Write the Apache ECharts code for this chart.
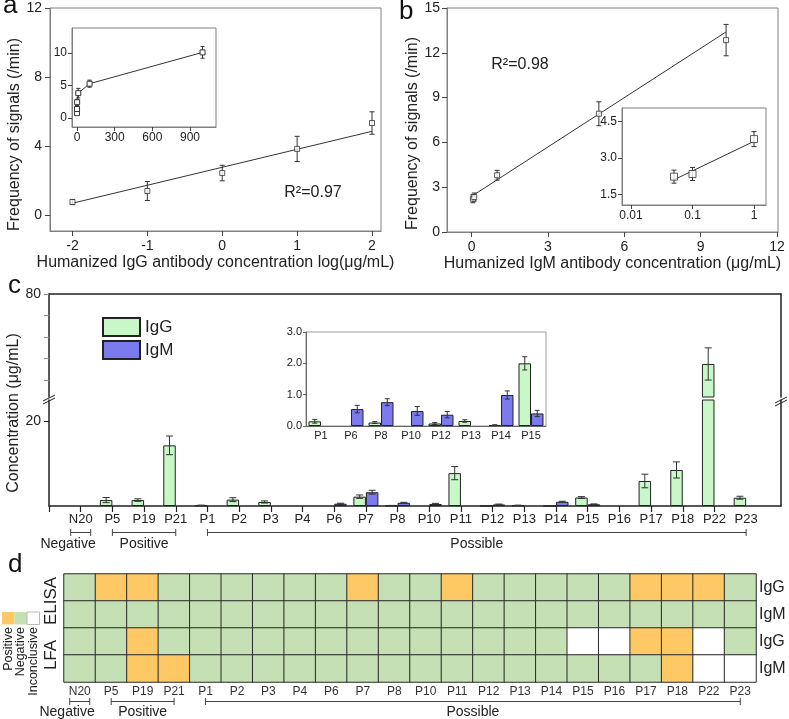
<!DOCTYPE html>
<html>
<head>
<meta charset="utf-8">
<script src="https://cdn.jsdelivr.net/npm/echarts@6.0.0/dist/echarts.min.js"></script>
<style>
html,body{margin:0;padding:0;background:#fff;}
#chart{width:789px;height:719px;}
</style>
</head>
<body>
<div id="chart"></div>
<script>
// ---------------- data ----------------
// panel a : IgG calibration (log concentration)
const aLogConc = [-2, -1, 0, 1, 2];
const aFreq = [0.75, 1.39, 2.43, 3.83, 5.33];
const aErr = [0.15, 0.55, 0.45, 0.73, 0.65];
const aFitX = [-2, 2];
const aFitY = [0.68, 4.85];
const aTicksX = [-2, -1, 0, 1, 2];
const aTicksY = [0, 4, 8, 12];
// panel a inset : linear concentration
const aInsetConc = [0.01, 0.1, 1, 10, 100, 1000];
const aInsetFreq = [0.75, 1.39, 2.43, 3.83, 5.28, 10.1];
const aInsetErr = [0.15, 0.55, 0.45, 0.73, 0.55, 0.9];
const aInsetTicksX = [0, 300, 600, 900];
const aInsetTicksY = [0, 5, 10];

// panel b : IgM calibration
const bConc = [0.05, 0.1, 1, 5, 10];
const bFreq = [2.23, 2.34, 3.8, 7.92, 12.85];
const bErr = [0.27, 0.27, 0.33, 0.8, 1.05];
const bFitX = [0.05, 10];
const bFitY = [2.45, 13.4];
const bTicksX = [0, 3, 6, 9, 12];
// panel b inset : log concentration
const bInsetConc = [0.05, 0.1, 1];
const bInsetFreq = [2.23, 2.34, 3.78];
const bInsetErr = [0.27, 0.27, 0.31];
const bInsetFitX = [0.05, 1];
const bInsetFitY = [2.1, 3.69];
const bInsetTicksX = [0.01, 0.1, 1];
const bInsetTicksY = [1.5, 3.0, 4.5];

// panel c : concentrations per sample
const cCats = ['N20','P5','P19','P21','P1','P2','P3','P4','P6','P7','P8','P10','P11','P12','P13','P14','P15','P16','P17','P18','P22','P23'];
const cIgG    = [0, 1.4, 1.4, 14.3, 0.15, 1.5, 0.95, 0, 0, 2.2, 0.11, 0, 7.75, 0.08, 0.16, 0.03, 2.0, 0, 5.9, 8.5, 47.4, 1.95];
const cIgGErr = [0, 0.6, 0.3, 2.2, 0.06, 0.45, 0.25, 0, 0, 0.4, 0.03, 0, 1.55, 0.03, 0.04, 0.01, 0.21, 0, 1.6, 1.9, 7.5, 0.35];
const cIgM    = [0, 0, 0, 0, 0, 0, 0, 0, 0.54, 3.25, 0.76, 0.48, 0, 0.36, 0, 0.99, 0.4, 0, 0, 0, 0, 0];
const cIgMErr = [0, 0, 0, 0, 0, 0, 0, 0, 0.12, 0.45, 0.11, 0.14, 0, 0.1, 0, 0.13, 0.1, 0, 0, 0, 0, 0];
const cLowerTicks = [20];
const cUpperTicks = [40, 50, 60, 70, 80];
const cUpperLabels = [80];
// panel c inset
const cInsetCats = ['P1','P6','P8','P10','P12','P13','P14','P15'];
const cInsetIgG    = [0.15, 0, 0.11, 0, 0.08, 0.16, 0.03, 2.0];
const cInsetIgGErr = [0.06, 0, 0.03, 0, 0.03, 0.04, 0.01, 0.21];
const cInsetIgM    = [0, 0.54, 0.76, 0.48, 0.36, 0, 0.99, 0.4];
const cInsetIgMErr = [0, 0.12, 0.11, 0.14, 0.1, 0, 0.13, 0.1];

// sample groups
const groups = [
  {label: 'Negative', first: 'N20', last: 'N20'},
  {label: 'Positive', first: 'P5', last: 'P21'},
  {label: 'Possible', first: 'P1', last: 'P23'}
];

// panel d : test results, 1 = Positive, 0 = Negative, 2 = Inconclusive
const dStates = ['Negative', 'Positive', 'Inconclusive'];
const dRows = ['ELISA IgG', 'ELISA IgM', 'LFA IgG', 'LFA IgM'];
const dMethods = ['ELISA', 'LFA'];
const elisaIgG = [0,1,1,0,0,0,0,0,0,1,0,0,1,0,0,0,0,0,1,1,1,0];
const elisaIgM = [0,0,0,0,0,0,0,0,0,0,0,0,0,0,0,0,0,0,0,0,0,0];
const lfaIgG   = [0,0,1,0,0,0,0,0,0,0,0,0,0,0,0,0,2,2,1,1,2,0];
const lfaIgM   = [0,0,1,1,0,0,0,0,0,0,0,0,0,0,0,0,0,0,0,1,2,2];

// ---------------- style ----------------
const F = '"Liberation Sans", Arial, Helvetica, sans-serif';
const INK = '#333';
const FRAME = '#808080';
const IGG = '#c8f7c8', IGM = '#7b7bef';
const POS = '#fec864', NEG = '#c5e0b4', INC = '#ffffff';
const BARW = 12.5;

const pairs = (xs, ys) => xs.map((x, i) => [x, ys[i]]);

function errSeries(xIdx, yIdx, xs, ys, es, o) {
  o = o || {};
  const lo = o.lo !== undefined ? o.lo : -Infinity;
  const hi = o.hi !== undefined ? o.hi : Infinity;
  const data = [];
  xs.forEach((x, i) => {
    if (es[i] > 0 && ys[i] + es[i] <= hi && ys[i] - es[i] >= lo) data.push([x, ys[i] - es[i], ys[i] + es[i]]);
  });
  return {
    type: 'custom', xAxisIndex: xIdx, yAxisIndex: yIdx, z: 4, silent: true,
    data: data, encode: {x: 0, y: [1, 2]},
    renderItem: function (params, api) {
      const p1 = api.coord([api.value(0), api.value(1)]);
      const p2 = api.coord([api.value(0), api.value(2)]);
      const x = p1[0] + (o.dx || 0);
      const w = (o.cap || 5) / 2;
      const st = {stroke: o.color || INK, lineWidth: 1, fill: null};
      return {type: 'group', children: [
        {type: 'line', shape: {x1: x, y1: p1[1], x2: x, y2: p2[1]}, style: st},
        {type: 'line', shape: {x1: x - w, y1: p1[1], x2: x + w, y2: p1[1]}, style: st},
        {type: 'line', shape: {x1: x - w, y1: p2[1], x2: x + w, y2: p2[1]}, style: st}
      ]};
    }
  };
}

function valAxis(o) {
  const ax = {
    type: o.type || 'value',
    gridIndex: o.grid,
    min: o.min, max: o.max,
    position: o.position,
    axisLine: {show: true, onZero: false, lineStyle: {color: o.lineColor || FRAME, width: o.lineWidth || 1}},
    axisTick: {show: true, length: o.tickLen || 5, lineStyle: {color: o.tickColor || '#444'}},
    axisLabel: {color: '#222', fontSize: o.fs || 14, fontFamily: F, margin: o.margin || 7},
    splitLine: {show: false}
  };
  if (o.ticks) ax.axisTick.customValues = o.ticks;
  if (o.labels || o.ticks) ax.axisLabel.customValues = o.labels || o.ticks;
  if (o.interval) ax.interval = o.interval;
  if (o.fmt) ax.axisLabel.formatter = o.fmt;
  if (o.name) {
    ax.name = o.name; ax.nameLocation = 'middle'; ax.nameGap = o.nameGap;
    ax.nameTextStyle = {fontSize: 16, fontFamily: F, color: '#222', padding: o.namePad || 0};
  }
  return ax;
}

const frameGrid = (l, t, w, h, bg) => ({left: l, top: t, width: w, height: h, show: true,
  borderColor: FRAME, borderWidth: 1, backgroundColor: bg || 'transparent'});

const upperMin = 32;
const lowerMax = 25;

const heatData = [];
[elisaIgG, elisaIgM, lfaIgG, lfaIgM].forEach((row, r) => row.forEach((v, c) => heatData.push([c, r, v])));

const option = {
  animation: false,
  textStyle: {fontFamily: F},
  grid: [
    frameGrid(50, 8, 331, 223),            // 0 a main
    frameGrid(72, 28, 144, 99, '#fff'),    // 1 a inset
    frameGrid(447, 8, 331, 224),           // 2 b main
    frameGrid(622, 108, 144, 97, '#fff'),  // 3 b inset
    {left: 49, top: 294, width: 732, height: 103},   // 4 c upper
    {left: 49, top: 400, width: 732, height: 106},   // 5 c lower
    Object.assign(frameGrid(306, 332, 240, 94, '#fff'), {borderColor: '#999'}), // 6 c inset
    {left: 64, top: 574, width: 692, height: 108}    // 7 d heatmap
  ],
  xAxis: [
    valAxis({grid: 0, min: -2.3, max: 2.12, ticks: aTicksX, margin: 8,
      name: 'Humanized IgG antibody concentration log(\u03bcg/mL)', nameGap: 24}),
    valAxis({grid: 1, min: -40, max: 1107, ticks: aInsetTicksX, fs: 12, margin: 5, tickLen: 4}),
    valAxis({grid: 2, min: -0.97, max: 12.04, ticks: bTicksX, margin: 8,
      name: 'Humanized IgM antibody concentration (\u03bcg/mL)', nameGap: 24}),
    valAxis({grid: 3, type: 'log', min: 0.00714, max: 1.567, ticks: bInsetTicksX, fs: 12, margin: 5, tickLen: 4,
      fmt: v => String(+(+v).toPrecision(2))}),
    // c upper: top frame line only
    {type: 'value', gridIndex: 4, min: 0, max: 23.1, position: 'top',
      axisLine: {show: true, onZero: false, lineStyle: {color: '#222', width: 1.5}},
      axisTick: {show: false}, axisLabel: {show: false}, splitLine: {show: false}},
    // c lower: sample axis
    {type: 'value', gridIndex: 5, min: 0, max: 23.1, position: 'bottom',
      axisLine: {show: true, onZero: false, lineStyle: {color: '#222', width: 1.5}},
      axisTick: {show: true, length: 6, lineStyle: {color: '#222', width: 1.2}, customValues: cCats.map((_, i) => i)},
      axisLabel: {color: '#222', fontSize: 13, fontFamily: F, margin: 7,
        customValues: cCats.map((_, i) => i + 1), formatter: v => cCats[Math.round(v) - 1] || ''},
      splitLine: {show: false}},
    // c inset
    {type: 'category', gridIndex: 6, data: cInsetCats,
      axisLine: {show: true, lineStyle: {color: '#666'}}, axisTick: {show: false},
      axisLabel: {color: '#222', fontSize: 11, fontFamily: F, margin: 4, interval: 0}},
    // d heatmap
    {type: 'category', gridIndex: 7, data: cCats, position: 'bottom',
      axisLine: {show: false}, axisTick: {show: false},
      axisLabel: {color: '#333', fontSize: 12, fontFamily: F, margin: 4, interval: 0}, splitLine: {show: false}}
  ],
  yAxis: [
    valAxis({grid: 0, min: -0.93, max: 12, ticks: aTicksY, margin: 8,
      name: 'Frequency of signals (/min)', nameGap: 18, namePad: [0, 30, 0, 0]}),
    valAxis({grid: 1, min: -1.38, max: 13.85, ticks: aInsetTicksY, fs: 12, margin: 5, tickLen: 4}),
    valAxis({grid: 2, min: 0, max: 15, interval: 3, margin: 7,
      name: 'Frequency of signals (/min)', nameGap: 24, namePad: [0, 27, 0, 0]}),
    valAxis({grid: 3, min: 1.058, max: 5.066, ticks: bInsetTicksY, fs: 12, margin: 5, tickLen: 4,
      fmt: v => (+v).toFixed(1)}),
    // 4 c upper left
    {type: 'value', gridIndex: 4, min: upperMin, max: 80,
      axisLine: {show: true, onZero: false, lineStyle: {color: '#222', width: 1.5}},
      axisTick: {show: true, length: 5, lineStyle: {color: '#888'}, customValues: cUpperTicks},
      axisLabel: {color: '#222', fontSize: 14, fontFamily: F, margin: 8, customValues: cUpperLabels},
      splitLine: {show: false}},
    // 5 c upper right
    {type: 'value', gridIndex: 4, min: upperMin, max: 80, position: 'right',
      axisLine: {show: true, onZero: false, lineStyle: {color: '#222', width: 1.5}},
      axisTick: {show: false}, axisLabel: {show: false}, splitLine: {show: false}},
    // 6 c lower left
    {type: 'value', gridIndex: 5, min: 0, max: lowerMax,
      axisLine: {show: true, onZero: false, lineStyle: {color: '#222', width: 1.5}},
      axisTick: {show: true, length: 5, lineStyle: {color: '#222'}, customValues: cLowerTicks},
      axisLabel: {color: '#222', fontSize: 14, fontFamily: F, margin: 8, customValues: cLowerTicks},
      splitLine: {show: false}},
    // 7 c lower right
    {type: 'value', gridIndex: 5, min: 0, max: lowerMax, position: 'right',
      axisLine: {show: true, onZero: false, lineStyle: {color: '#222', width: 1.5}},
      axisTick: {show: false}, axisLabel: {show: false}, splitLine: {show: false}},
    // 8 c inset
    {type: 'value', gridIndex: 6, min: 0, max: 3, interval: 1,
      axisLine: {show: true, lineStyle: {color: '#666'}},
      axisTick: {show: true, length: 3, lineStyle: {color: '#666'}},
      axisLabel: {color: '#222', fontSize: 11, fontFamily: F, margin: 4, formatter: v => (+v).toFixed(1)},
      splitLine: {show: false}},
    // 9 d rows (right)
    {type: 'category', gridIndex: 7, data: dRows, inverse: true, position: 'right',
      axisLine: {show: false}, axisTick: {show: false},
      axisLabel: {color: '#222', fontSize: 16, fontFamily: F, margin: 3, interval: 0, formatter: v => v.split(' ')[1]}},
    // 10 d methods (left)
    {type: 'category', gridIndex: 7, data: dMethods, inverse: true, position: 'left',
      axisLine: {show: false}, axisTick: {show: false},
      axisLabel: {color: '#222', fontSize: 17, fontFamily: F, margin: 4, rotate: 90, interval: 0,
        align: 'center', verticalAlign: 'bottom', hideOverlap: false}}
  ],
  legend: {
    data: ['IgG', 'IgM'], orient: 'vertical', left: 97, top: 312,
    itemWidth: 37, itemHeight: 18, itemGap: 3, icon: 'rect', selectedMode: false,
    textStyle: {fontSize: 17, fontFamily: F, color: '#222'}
  },
  visualMap: {
    type: 'piecewise', show: false, seriesIndex: 0, dimension: 2,
    pieces: [{value: 0, color: NEG}, {value: 1, color: POS}, {value: 2, color: INC}]
  },
  series: []
};

const S = option.series;
// heatmap first (visualMap seriesIndex 0)
S.push({type: 'heatmap', xAxisIndex: 7, yAxisIndex: 9, data: heatData, silent: true,
  itemStyle: {borderColor: '#2b2b2b', borderWidth: 1}, emphasis: {disabled: true}});

// panel a
S.push({type: 'line', xAxisIndex: 0, yAxisIndex: 0, data: pairs(aFitX, aFitY), showSymbol: false, silent: true,
  lineStyle: {color: INK, width: 1}});
S.push(errSeries(0, 0, aLogConc, aFreq, aErr, {cap: 5}));
S.push({type: 'scatter', xAxisIndex: 0, yAxisIndex: 0, data: pairs(aLogConc, aFreq), symbol: 'rect', symbolSize: 5,
  itemStyle: {color: '#fff', borderColor: INK, borderWidth: 1}, z: 5, silent: true});
S.push({type: 'line', xAxisIndex: 1, yAxisIndex: 1, data: pairs(aInsetConc, aInsetFreq), symbol: 'rect', symbolSize: 5,
  showSymbol: true, lineStyle: {color: INK, width: 1}, itemStyle: {color: '#fff', borderColor: INK, borderWidth: 1}, z: 5, silent: true});
S.push(errSeries(1, 1, aInsetConc, aInsetFreq, aInsetErr, {cap: 4}));

// panel b
S.push({type: 'line', xAxisIndex: 2, yAxisIndex: 2, data: pairs(bFitX, bFitY), showSymbol: false, silent: true,
  lineStyle: {color: INK, width: 1}});
S.push(errSeries(2, 2, bConc, bFreq, bErr, {cap: 5}));
S.push({type: 'scatter', xAxisIndex: 2, yAxisIndex: 2, data: pairs(bConc, bFreq), symbol: 'rect', symbolSize: 5,
  itemStyle: {color: '#fff', borderColor: INK, borderWidth: 1}, z: 5, silent: true});
S.push({type: 'line', xAxisIndex: 3, yAxisIndex: 3, data: pairs(bInsetFitX, bInsetFitY), showSymbol: false, silent: true,
  lineStyle: {color: INK, width: 1}});
S.push(errSeries(3, 3, bInsetConc, bInsetFreq, bInsetErr, {cap: 5}));
S.push({type: 'scatter', xAxisIndex: 3, yAxisIndex: 3, data: pairs(bInsetConc, bInsetFreq), symbol: 'rect', symbolSize: 7,
  itemStyle: {color: '#fff', borderColor: INK, borderWidth: 1}, z: 5, silent: true});

// panel c bars
function barSeries(name, color, xi, yi, data) {
  return {type: 'bar', name: name, xAxisIndex: xi, yAxisIndex: yi, data: data, barWidth: BARW, barGap: '0%',
    itemStyle: {color: color, borderColor: '#222', borderWidth: 1}, silent: true, clip: true};
}
const sampleBars = (vals, keep) => vals.map((v, i) => [i + 1, v]).filter(d => keep(d[1]));
S.push(barSeries('IgG', IGG, 5, 6, sampleBars(cIgG, v => v > 0)));
S.push(barSeries('IgM', IGM, 5, 6, sampleBars(cIgM, v => v > 0)));
S.push(barSeries('IgG', IGG, 4, 4, sampleBars(cIgG, v => v > upperMin)));
S.push(barSeries('IgM', IGM, 4, 4, sampleBars(cIgM, v => v > upperMin)));
const cPos = cCats.map((_, i) => i + 1);
S.push(errSeries(5, 6, cPos, cIgG, cIgGErr, {dx: -BARW / 2, cap: 7, hi: lowerMax}));
S.push(errSeries(5, 6, cPos, cIgM, cIgMErr, {dx: BARW / 2, cap: 7, hi: lowerMax}));
S.push(errSeries(4, 4, cPos, cIgG, cIgGErr, {dx: -BARW / 2, cap: 7, lo: upperMin}));

// panel c inset
S.push(barSeries('IgG', IGG, 6, 8, cInsetIgG.map(v => v > 0 ? v : '-')));
S.push(barSeries('IgM', IGM, 6, 8, cInsetIgM.map(v => v > 0 ? v : '-')));
const insetPos = cInsetCats.map((_, i) => i);
S.push(errSeries(6, 8, insetPos, cInsetIgG, cInsetIgGErr, {dx: -BARW / 2, cap: 5}));
S.push(errSeries(6, 8, insetPos, cInsetIgM, cInsetIgMErr, {dx: BARW / 2, cap: 5}));

const chart = echarts.init(document.getElementById('chart'));
chart.setOption(option);

// ---------------- annotations ----------------
const G = [];
const txt = (x, y, s, size, extra) => Object.assign({type: 'text', x: x, y: y, silent: true,
  style: Object.assign({text: s, fill: '#111', fontSize: size, fontFamily: F,
    align: 'left', textAlign: 'left', verticalAlign: 'top', textVerticalAlign: 'top'}, (extra && extra.style) || {})},
  extra ? {rotation: extra.rotation || 0} : {});
G.push(txt(3, -7, 'a', 26));
G.push(txt(399, -1, 'b', 26));
G.push(txt(8, 273, 'c', 26));
G.push(txt(8, 552, 'd', 26));
G.push(txt(313, 193, 'R\u00b2=0.97', 16, {style: {align: 'center', textAlign: 'center', verticalAlign: 'middle', textVerticalAlign: 'middle', fill: '#222'}}));
G.push(txt(520, 65, 'R\u00b2=0.98', 16, {style: {align: 'center', textAlign: 'center', verticalAlign: 'middle', textVerticalAlign: 'middle', fill: '#222'}}));
G.push(txt(14, 413, 'Concentration (\u03bcg/mL)', 16, {rotation: Math.PI / 2,
  style: {align: 'center', textAlign: 'center', verticalAlign: 'middle', textVerticalAlign: 'middle', fill: '#222'}}));

// axis break marks
function breakMark(cx, cy) {
  return {type: 'group', x: cx, y: cy, silent: true, children: [
    {type: 'polygon', shape: {points: [[-6, 2], [6, -4], [6, -1], [-6, 5]]}, style: {fill: '#fff'}},
    {type: 'line', shape: {x1: -6, y1: 2, x2: 6, y2: -4}, style: {stroke: '#222', lineWidth: 1}},
    {type: 'line', shape: {x1: -6, y1: 5, x2: 6, y2: -1}, style: {stroke: '#222', lineWidth: 1}}
  ]};
}
G.push(breakMark(49, 399));
G.push(breakMark(781, 401));

// sample group brackets
function brackets(axisIdx, toVal, yLine, yText) {
  groups.forEach(g => {
    const single = g.first === g.last;
    let xA = chart.convertToPixel({xAxisIndex: axisIdx}, toVal(g.first));
    let xB = chart.convertToPixel({xAxisIndex: axisIdx}, toVal(g.last));
    if (single) { xA -= 10; xB += 10; }
    const st = {stroke: '#444', lineWidth: 1};
    G.push({type: 'line', silent: true, shape: {x1: xA, y1: yLine, x2: xB, y2: yLine}, style: st});
    G.push({type: 'line', silent: true, shape: {x1: xA, y1: yLine - 3.5, x2: xA, y2: yLine + 3.5}, style: st});
    G.push({type: 'line', silent: true, shape: {x1: xB, y1: yLine - 3.5, x2: xB, y2: yLine + 3.5}, style: st});
    const tx = single ? xB + 5 : (xA + xB) / 2;
    const al = single ? 'right' : 'center';
    G.push(txt(tx, yText, g.label, 14, {style: {align: al, textAlign: al, verticalAlign: 'middle', textVerticalAlign: 'middle', fill: '#222'}}));
  });
}
brackets(5, name => cCats.indexOf(name) + 1, 532.5, 544);
brackets(7, name => cCats.indexOf(name), 701.5, 712);

// panel d legend
const legendColors = {Positive: POS, Negative: NEG, Inconclusive: INC};
['Positive', 'Negative', 'Inconclusive'].forEach((s, i) => {
  const x0 = 2 + i * 12.5;
  G.push({type: 'rect', silent: true, shape: {x: x0, y: 612, width: 12.5, height: 12.5},
    style: {fill: legendColors[s], stroke: s === 'Inconclusive' ? '#bbb' : null, lineWidth: 1}});
  G.push(txt(x0 + 6.25, 627, s, 12.5, {rotation: Math.PI / 2,
    style: {align: 'right', textAlign: 'right', verticalAlign: 'middle', textVerticalAlign: 'middle', fill: '#222'}}));
});

chart.setOption({graphic: {elements: G}});
</script>
</body>
</html>
